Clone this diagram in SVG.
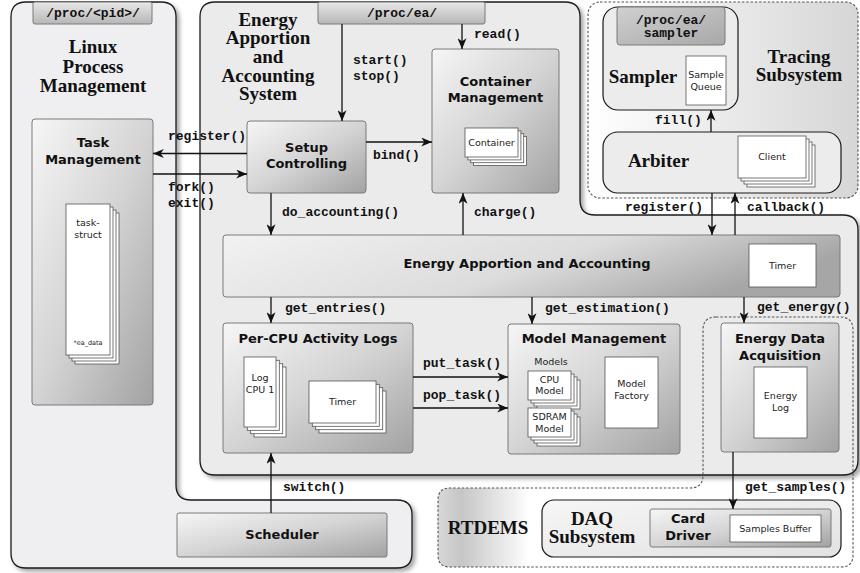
<svg xmlns="http://www.w3.org/2000/svg" width="860" height="573" viewBox="0 0 860 573">
<defs>
<linearGradient id="gBox" x1="0" y1="0" x2="1" y2="1">
<stop offset="0" stop-color="#f6f6f6"/><stop offset="0.5" stop-color="#d4d4d4"/><stop offset="1" stop-color="#a2a2a2"/>
</linearGradient>
<linearGradient id="gWide" x1="0" y1="0" x2="1" y2="0.3">
<stop offset="0" stop-color="#f2f2f2"/><stop offset="0.6" stop-color="#dcdcdc"/><stop offset="1" stop-color="#a6a6a6"/>
</linearGradient>
<linearGradient id="gTab" x1="0" y1="0" x2="0" y2="1">
<stop offset="0" stop-color="#e8e8e8"/><stop offset="1" stop-color="#b6b6b6"/>
</linearGradient>
<linearGradient id="gTab2" x1="0" y1="0" x2="1" y2="1">
<stop offset="0" stop-color="#d0d0d0"/><stop offset="1" stop-color="#a8a8a8"/>
</linearGradient>
<linearGradient id="gTrace" gradientUnits="userSpaceOnUse" x1="588" y1="0" x2="858" y2="0">
<stop offset="0" stop-color="#ffffff"/><stop offset="1" stop-color="#d6d6d6"/>
</linearGradient>
<linearGradient id="gRt" gradientUnits="userSpaceOnUse" x1="438" y1="0" x2="530" y2="0">
<stop offset="0" stop-color="#d8d8d8"/><stop offset="0.25" stop-color="#c6c6c6"/><stop offset="1" stop-color="#ffffff"/>
</linearGradient>
<linearGradient id="gLight" x1="0" y1="0" x2="1" y2="1">
<stop offset="0" stop-color="#f6f6f6"/><stop offset="1" stop-color="#e2e2e2"/>
</linearGradient>
<filter id="sh" x="-5%" y="-5%" width="115%" height="115%">
<feDropShadow dx="3" dy="3" stdDeviation="2" flood-color="#000" flood-opacity="0.35"/>
</filter>
<marker id="ah" viewBox="0 0 12 10" markerWidth="12" markerHeight="9" markerUnits="userSpaceOnUse" refX="12" refY="5" orient="auto">
<path d="M0,0 L12,5 L0,10 L3.5,5 Z" fill="#111"/>
</marker>
<style>
.cont{stroke:#1a1a1a;stroke-width:1.3}
.box{fill:url(#gBox);stroke:#7a7a7a;stroke-width:1}
.wide{fill:url(#gWide);stroke:#7a7a7a;stroke-width:1}
.tab{fill:url(#gTab);stroke:#7a7a7a;stroke-width:1}
.card{fill:#fff;stroke:#555;stroke-width:0.8}
.dash{fill:none;stroke:#555;stroke-width:1.1;stroke-dasharray:2.5,1.8}
.ln{fill:none;stroke:#111;stroke-width:1.3;marker-end:url(#ah)}
.ttl{font-family:"Liberation Serif",serif;font-weight:bold;font-size:19px;fill:#111;text-anchor:middle}
.bx{font-family:"DejaVu Sans",sans-serif;font-weight:bold;font-size:13px;fill:#111;text-anchor:middle}
.sm{font-family:"DejaVu Sans",sans-serif;font-size:9.5px;fill:#222;text-anchor:middle}
.mono{font-family:"Liberation Mono",monospace;font-weight:bold;font-size:13px;fill:#111}
.mc{text-anchor:middle}
</style>
</defs>
<rect width="860" height="573" fill="#fff"/>

<g id="linux">
<path class="cont" filter="url(#sh)" fill="#efeff2" d="M26,2 H161 Q176,2 176,17 V485 Q176,500 191,500 H397 Q412,500 412,515 V553 Q412,568 397,568 H26 Q11,568 11,553 V17 Q11,2 26,2 Z"/>
<rect class="tab" x="33" y="2" width="119" height="22" rx="2"/>
<text class="mono mc" x="93" y="17">/proc/&lt;pid&gt;/</text>
<text class="ttl" x="93" y="53">Linux</text>
<text class="ttl" x="93" y="72.5">Process</text>
<text class="ttl" x="93" y="92">Management</text>
</g>

<g id="rtdems-bg">
<path fill="url(#gRt)" d="M716,317 H840 Q853,317 853,330 V555 Q853,567 841,567 H450 Q438,567 438,555 V500 Q438,488 450,488 H690 Q703,488 703,475 V330 Q703,317 716,317 Z"/>
</g>

<g id="tracing">
<rect x="588" y="2" width="270" height="196" rx="12" fill="url(#gTrace)" stroke="#555" stroke-width="1.1" stroke-dasharray="2.5,1.8"/>
<text class="ttl" x="799" y="62.5">Tracing</text>
<text class="ttl" x="799" y="81">Subsystem</text>
</g>

<g id="eaas">
<path class="cont" filter="url(#sh)" fill="#ebebeb" d="M215,2 H565 Q580,2 580,17 V200 Q580,215 595,215 H843 Q858,215 858,230 V460 Q858,475 843,475 H215 Q200,475 200,460 V17 Q200,2 215,2 Z"/>
<rect class="tab" x="318" y="2" width="167" height="22" rx="2"/>
<text class="mono mc" x="402" y="17">/proc/ea/</text>
<text class="ttl" x="268" y="25.5">Energy</text>
<text class="ttl" x="268" y="44">Apportion</text>
<text class="ttl" x="268" y="63">and</text>
<text class="ttl" x="268" y="81.5">Accounting</text>
<text class="ttl" x="268" y="100">System</text>
</g>

<g id="task-management">
<rect class="box" x="32" y="119" width="121" height="286" rx="3"/>
<text class="bx" x="93" y="147">Task</text>
<text class="bx" x="93" y="163.5">Management</text>
<rect class="card" x="75" y="213" width="44" height="151"/>
<rect class="card" x="72" y="210" width="44" height="151"/>
<rect class="card" x="69" y="207" width="44" height="151"/>
<rect class="card" x="66" y="204" width="44" height="151"/>
<text class="sm" x="88" y="226">task-</text>
<text class="sm" x="88" y="238">struct</text>
<text class="sm" x="88" y="345" style="font-size:6.5px">*ea_data</text>
</g>

<g id="setup-controlling">
<rect class="box" x="247" y="121" width="119" height="72" rx="3"/>
<text class="bx" x="306.5" y="152">Setup</text>
<text class="bx" x="306.5" y="168">Controlling</text>
</g>

<g id="container-management">
<rect class="box" x="432" y="49" width="127" height="144" rx="3"/>
<text class="bx" x="495.5" y="86">Container</text>
<text class="bx" x="495.5" y="102">Management</text>
<rect class="card" x="473.5" y="136.5" width="53" height="29"/>
<rect class="card" x="470.7" y="133.7" width="53" height="29"/>
<rect class="card" x="467.9" y="130.9" width="53" height="29"/>
<rect class="card" x="465" y="128" width="53" height="29"/>
<text class="sm" x="491.5" y="146">Container</text>
</g>

<g id="eaa">
<rect class="wide" x="223" y="235" width="617" height="62" rx="3"/>
<text class="bx" x="527" y="268">Energy Apportion and Accounting</text>
<rect class="card" x="749" y="244" width="67" height="43"/>
<text class="sm" x="782.5" y="269">Timer</text>
</g>

<g id="per-cpu-logs">
<rect class="box" x="223" y="323" width="190" height="130" rx="3"/>
<text class="bx" x="318" y="343">Per-CPU Activity Logs</text>
<rect class="card" x="254" y="367" width="32" height="70"/>
<rect class="card" x="250.7" y="363.7" width="32" height="70"/>
<rect class="card" x="247.3" y="360.3" width="32" height="70"/>
<rect class="card" x="244" y="357" width="32" height="70"/>
<text class="sm" x="260" y="381">Log</text>
<text class="sm" x="260" y="392.5">CPU 1</text>
<rect class="card" x="319" y="391" width="67" height="42"/>
<rect class="card" x="315.7" y="387.7" width="67" height="42"/>
<rect class="card" x="312.3" y="384.3" width="67" height="42"/>
<rect class="card" x="309" y="381" width="67" height="42"/>
<text class="sm" x="342.5" y="405">Timer</text>
</g>

<g id="model-management">
<rect class="box" x="508" y="324" width="172" height="130" rx="3"/>
<text class="bx" x="594" y="343">Model Management</text>
<text class="sm" x="551" y="365">Models</text>
<rect class="card" x="537" y="380" width="43" height="29"/>
<rect class="card" x="534" y="377" width="43" height="29"/>
<rect class="card" x="531" y="374" width="43" height="29"/>
<rect class="card" x="528" y="371" width="43" height="29"/>
<text class="sm" x="549.5" y="382.5">CPU</text>
<text class="sm" x="549.5" y="394">Model</text>
<rect class="card" x="537" y="417" width="43" height="29"/>
<rect class="card" x="534" y="414" width="43" height="29"/>
<rect class="card" x="531" y="411" width="43" height="29"/>
<rect class="card" x="528" y="408" width="43" height="29"/>
<text class="sm" x="549.5" y="420">SDRAM</text>
<text class="sm" x="549.5" y="431.5">Model</text>
<rect class="card" x="605" y="357" width="53" height="71"/>
<text class="sm" x="631.5" y="387">Model</text>
<text class="sm" x="631.5" y="399">Factory</text>
</g>

<g id="energy-data-acquisition">
<rect class="box" x="721" y="323" width="118" height="129" rx="3"/>
<text class="bx" x="780" y="343">Energy Data</text>
<text class="bx" x="780" y="359.5">Acquisition</text>
<rect class="card" x="754" y="367" width="53" height="71"/>
<text class="sm" x="780.5" y="399">Energy</text>
<text class="sm" x="780.5" y="410.5">Log</text>
</g>

<g id="rtdems">
<path class="dash" d="M716,317 H840 Q853,317 853,330 V555 Q853,567 841,567 H450 Q438,567 438,555 V500 Q438,488 450,488 H690 Q703,488 703,475 V330 Q703,317 716,317 Z"/>
<text class="ttl" x="488" y="534">RTDEMS</text>
</g>

<g id="daq-subsystem">
<rect x="542" y="500" width="299" height="57" rx="12" fill="url(#gLight)" stroke="#1a1a1a" stroke-width="1.2"/>
<text class="ttl" x="592" y="525">DAQ</text>
<text class="ttl" x="592" y="543">Subsystem</text>
</g>

<g id="card-driver">
<rect class="box" x="650" y="509" width="181" height="38" rx="2"/>
<text class="bx" x="688" y="523">Card</text>
<text class="bx" x="688" y="540">Driver</text>
<rect class="card" x="730" y="515" width="91" height="27"/>
<text class="sm" x="775.5" y="531.5">Samples Buffer</text>
</g>

<g id="scheduler">
<rect class="box" x="177" y="513" width="210" height="44" rx="2"/>
<text class="bx" x="282" y="539">Scheduler</text>
</g>

<g id="sampler">
<rect x="603" y="7" width="135" height="103" rx="15" fill="#ececec" stroke="#1a1a1a" stroke-width="1.2"/>
<rect x="617" y="7" width="108" height="38" rx="3" fill="url(#gTab2)" stroke="#7a7a7a" stroke-width="1"/>
<text class="mono mc" x="671" y="24">/proc/ea/</text>
<text class="mono mc" x="671" y="36.5">sampler</text>
<text class="ttl" x="643" y="83">Sampler</text>
<rect class="card" x="686" y="56" width="40" height="49"/>
<text class="sm" x="706" y="77.5">Sample</text>
<text class="sm" x="706" y="89.5">Queue</text>
</g>

<g id="arbiter">
<rect x="603" y="132" width="238" height="61" rx="15" fill="#ececec" stroke="#1a1a1a" stroke-width="1.2"/>
<text class="ttl" x="658.5" y="167">Arbiter</text>
<rect class="card" x="747" y="145" width="68" height="42"/>
<rect class="card" x="744" y="142" width="68" height="42"/>
<rect class="card" x="741" y="139" width="68" height="42"/>
<rect class="card" x="738" y="136" width="68" height="42"/>
<text class="sm" x="772" y="160">Client</text>
</g>

<g id="connectors">
<line class="ln" x1="342" y1="24" x2="342" y2="121"/>
<text class="mono" x="353" y="63.5">start()</text>
<text class="mono" x="353" y="80">stop()</text>
<line class="ln" x1="462" y1="24" x2="462" y2="49"/>
<text class="mono" x="474" y="37.5">read()</text>
<line class="ln" x1="366" y1="142" x2="432" y2="142"/>
<text class="mono" x="373" y="158.5">bind()</text>
<line class="ln" x1="247" y1="153.5" x2="153" y2="153.5"/>
<text class="mono" x="168" y="139.5">register()</text>
<line class="ln" x1="153" y1="174" x2="247" y2="174"/>
<text class="mono" x="168" y="191">fork()</text>
<text class="mono" x="168" y="206.5">exit()</text>
<line class="ln" x1="271" y1="193" x2="271" y2="235"/>
<text class="mono" x="282" y="216">do_accounting()</text>
<line class="ln" x1="463" y1="235" x2="463" y2="193"/>
<text class="mono" x="474" y="216">charge()</text>
<line class="ln" x1="712" y1="193" x2="712" y2="235"/>
<text class="mono" x="625" y="211">register()</text>
<line class="ln" x1="735" y1="235" x2="735" y2="193"/>
<text class="mono" x="747" y="211">callback()</text>
<line class="ln" x1="711" y1="132" x2="711" y2="110"/>
<text class="mono" x="655" y="124">fill()</text>
<line class="ln" x1="271" y1="297" x2="271" y2="323"/>
<text class="mono" x="285" y="311.5">get_entries()</text>
<line class="ln" x1="532" y1="297" x2="532" y2="324"/>
<text class="mono" x="545" y="311.5">get_estimation()</text>
<line class="ln" x1="744" y1="297" x2="744" y2="323"/>
<text class="mono" x="757" y="310.5">get_energy()</text>
<line class="ln" x1="413" y1="377" x2="508" y2="377"/>
<text class="mono" x="423" y="367">put_task()</text>
<line class="ln" x1="413" y1="408" x2="508" y2="408"/>
<text class="mono" x="423" y="398.5">pop_task()</text>
<line class="ln" x1="271" y1="513" x2="271" y2="453"/>
<text class="mono" x="283" y="491">switch()</text>
<line class="ln" x1="733" y1="452" x2="733" y2="509"/>
<text class="mono" x="745" y="490.5">get_samples()</text>
</g>
</svg>
